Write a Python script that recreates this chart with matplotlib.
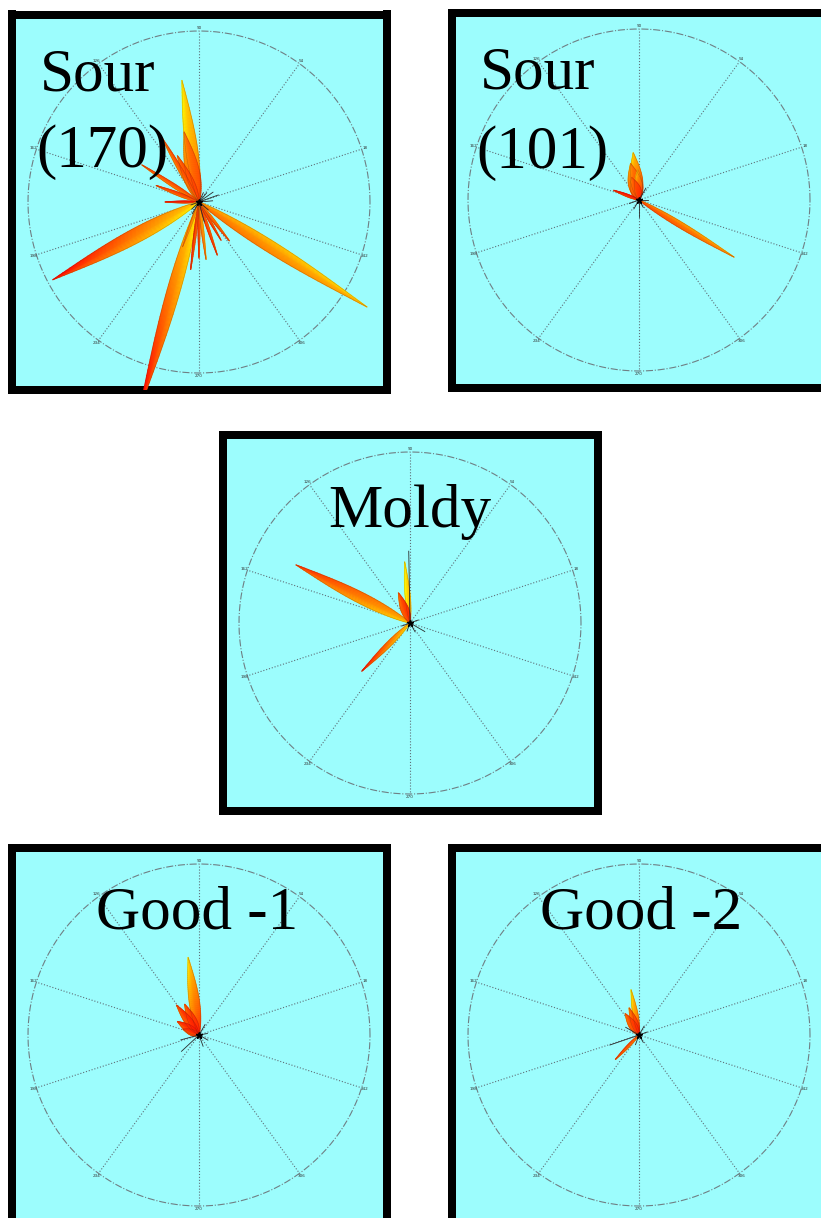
import numpy as np
import matplotlib.pyplot as plt
from matplotlib.font_manager import FontProperties, findfont

# petal lobes per sample: direction (deg), length (fraction of outer ring),
# width (fraction of outer ring), colour value at the base and at the tip (autumn map)
sour170_angle = [98, 102, 115, 120, 147, 159, 180, 208, 254, 328, 250, 263, 270, 277, 289, 300, 308]
sour170_length = [0.72, 0.42, 0.30, 0.44, 0.40, 0.27, 0.20, 0.97, 1.25, 1.16, 0.28, 0.40, 0.33, 0.34, 0.33, 0.26, 0.29]
sour170_width = [0.07, 0.08, 0.05, 0.025, 0.022, 0.02, 0.012, 0.085, 0.075, 0.07, 0.012, 0.015, 0.012, 0.015, 0.015, 0.012, 0.015]
sour170_base = [0.55, 0.35, 0.30, 0.35, 0.40, 0.35, 0.15, 0.85, 0.90, 0.50, 0.6, 0.35, 0.35, 0.6, 0.35, 0.35, 0.45]
sour170_tip = [0.90, 0.50, 0.40, 0.40, 0.35, 0.30, 0.15, 0.05, 0.05, 0.75, 0.5, 0.2, 0.25, 0.5, 0.25, 0.25, 0.35]
sour170_spike_angle = [5, 20, 35, 50, 65, 200, 225, 240, 285, 320]
sour170_spike_length = [0.08, 0.12, 0.10, 0.07, 0.06, 0.05, 0.06, 0.08, 0.12, 0.07]

sour101_angle = [97, 103, 92, 108, 159, 329]
sour101_length = [0.28, 0.22, 0.18, 0.14, 0.16, 0.65]
sour101_width = [0.07, 0.08, 0.05, 0.06, 0.015, 0.035]
sour101_base = [0.25, 0.20, 0.25, 0.20, 0.15, 0.35]
sour101_tip = [0.80, 0.55, 0.65, 0.40, 0.15, 0.60]
sour101_spike_angle = [0, 60, 200, 240, 270, 300]
sour101_spike_length = [0.05, 0.08, 0.06, 0.06, 0.10, 0.05]

moldy_angle = [153, 95, 111, 225]
moldy_length = [0.75, 0.36, 0.19, 0.40]
moldy_width = [0.065, 0.03, 0.045, 0.03]
moldy_base = [0.70, 0.75, 0.20, 0.80]
moldy_tip = [0.25, 0.95, 0.35, 0.10]
moldy_spike_angle = [91, 330, 300, 200, 250, 20]
moldy_spike_length = [0.42, 0.10, 0.06, 0.05, 0.05, 0.05]

good1_angle = [98, 115, 127, 148, 160]
good1_length = [0.46, 0.20, 0.22, 0.15, 0.10]
good1_width = [0.06, 0.05, 0.045, 0.045, 0.035]
good1_base = [0.25, 0.20, 0.15, 0.15, 0.15]
good1_tip = [0.85, 0.35, 0.30, 0.25, 0.25]
good1_spike_angle = [223, 195, 290, 330, 10, 60]
good1_spike_length = [0.14, 0.11, 0.07, 0.06, 0.05, 0.07]

good2_angle = [100, 110, 123, 226]
good2_length = [0.27, 0.17, 0.15, 0.20]
good2_width = [0.03, 0.04, 0.045, 0.015]
good2_base = [0.35, 0.20, 0.15, 0.40]
good2_tip = [0.90, 0.45, 0.40, 0.30]
good2_spike_angle = [199, 150, 250, 300, 20, 60]
good2_spike_length = [0.18, 0.09, 0.06, 0.05, 0.05, 0.06]

spoke_angles = [90, 54, 18, 342, 306, 270, 234, 198, 162, 126]
spoke_labels = ['90', '54', '18', '342', '306', '270', '234', '198', '162', '126']

W, H = 821, 1218
RING_PX = 171
FRAME_PX = 383
EDGE_PX = 8

title_font = FontProperties(fname=findfont('Liberation Serif'), size=44)


def panel(fig, cx, cy):
    # axes box sits on the centre line of the thick black frame
    side = FRAME_PX - EDGE_PX
    ax = fig.add_axes([(cx - side / 2) / W, 1 - (cy + side / 2) / H, side / W, side / H])
    lim = side / 2 / RING_PX
    ax.set_xlim(-lim, lim)
    ax.set_ylim(-lim, lim)
    ax.set_facecolor('#9cfdfd')
    ax.set_xticks([])
    ax.set_yticks([])
    for s in ax.spines.values():
        s.set_linewidth(EDGE_PX * 0.72)
        s.set_color('black')
    th = np.linspace(0, 2 * np.pi, 300)
    ax.plot(np.cos(th), np.sin(th), color='#6f7f84', lw=0.8, ls='-.')
    for a, lab in zip(spoke_angles, spoke_labels):
        r = np.radians(a)
        ax.plot([0, np.cos(r)], [0, np.sin(r)], color='#5f6f78', lw=0.8, ls=':')
        ax.text(1.02 * np.cos(r), 1.02 * np.sin(r), lab, fontsize=3,
                ha='center', va='center', color='#333333')
    return ax


def petal(ax, ang, length, width, c0, c1, n=40):
    t = np.linspace(0, 1, n)
    hw = 0.5 * width * np.sin(np.pi * t ** 0.8)
    a = np.radians(ang)
    u = np.array([np.cos(a), np.sin(a)])
    nv = np.array([-np.sin(a), np.cos(a)])
    mid = np.outer(t * length, u)
    left = mid + np.outer(hw, nv)
    right = mid - np.outer(hw, nv)
    pts = np.vstack([mid, left, right])
    cm = c0 + (c1 - c0) * t
    vals = np.clip(np.concatenate([cm, cm + 0.15, cm - 0.1]), 0, 1)
    tris = []
    for i in range(n - 1):
        for off in (n, 2 * n):
            tris.append([i, i + 1, off + i])
            tris.append([off + i, i + 1, off + i + 1])
    ax.tripcolor(pts[:, 0], pts[:, 1], np.array(tris), vals, shading='gouraud',
                 cmap='autumn', vmin=0, vmax=1, zorder=3)
    outline = np.vstack([left, right[::-1]])
    ax.plot(outline[:, 0], outline[:, 1], color='#5a3510', lw=0.3, alpha=0.4, zorder=4)


def spikes(ax, angles, lengths):
    for a, L in zip(angles, lengths):
        r = np.radians(a)
        ax.plot([0, L * np.cos(r)], [0, L * np.sin(r)], color='#2a2a2a', lw=0.6, zorder=5)
    ax.plot(0, 0, marker='*', ms=5, color='black', zorder=6)


def draw(ax, angle, length, width, base, tip, sp_angle, sp_length):
    for a, L, w, c0, c1 in zip(angle, length, width, base, tip):
        petal(ax, a, L, w, c0, c1)
    spikes(ax, sp_angle, sp_length)


def title(ax, x, y, s, ha):
    ax.text(x, y, s, ha=ha, va='baseline', fontproperties=title_font, color='black', zorder=7)


fig = plt.figure(figsize=(W / 100, H / 100), dpi=100)

ax1 = panel(fig, 199, 202)
draw(ax1, sour170_angle, sour170_length, sour170_width, sour170_base, sour170_tip,
     sour170_spike_angle, sour170_spike_length)
title(ax1, -0.93, 0.65, 'Sour', 'left')
title(ax1, -0.95, 0.205, '(170)', 'left')

ax2 = panel(fig, 639, 200)
draw(ax2, sour101_angle, sour101_length, sour101_width, sour101_base, sour101_tip,
     sour101_spike_angle, sour101_spike_length)
title(ax2, -0.93, 0.65, 'Sour', 'left')
title(ax2, -0.95, 0.19, '(101)', 'left')

ax3 = panel(fig, 410, 623)
draw(ax3, moldy_angle, moldy_length, moldy_width, moldy_base, moldy_tip,
     moldy_spike_angle, moldy_spike_length)
title(ax3, 0.0, 0.56, 'Moldy', 'center')

ax4 = panel(fig, 199, 1035)
draw(ax4, good1_angle, good1_length, good1_width, good1_base, good1_tip,
     good1_spike_angle, good1_spike_length)
title(ax4, -0.01, 0.625, 'Good -1', 'center')

ax5 = panel(fig, 639, 1035)
draw(ax5, good2_angle, good2_length, good2_width, good2_base, good2_tip,
     good2_spike_angle, good2_spike_length)
title(ax5, 0.01, 0.625, 'Good -2', 'center')

fig.savefig('out.png', dpi=100)
